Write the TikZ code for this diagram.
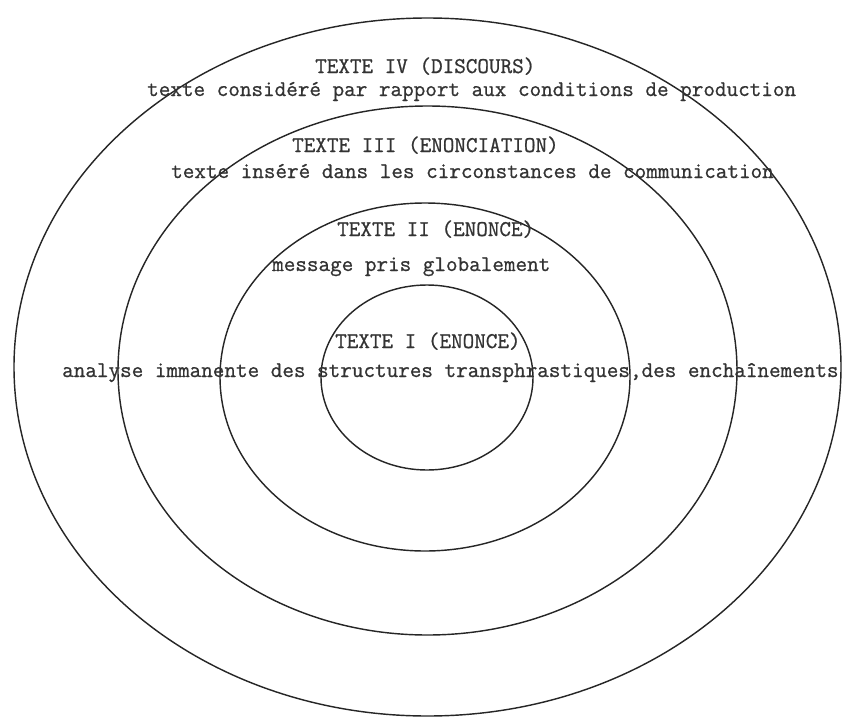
\documentclass[tikz,border=0pt]{standalone}
\usepackage{fontspec}
\newfontfamily\typewr[FakeBold=0.8]{Latin Modern Mono}

\begin{document}
\begin{tikzpicture}[x=1pt,y=-1pt,
        txt/.style={font=\typewr\fontsize{22.5}{26}\selectfont,color=black!80,anchor=base west,inner sep=0pt},]
        \fill[white] (0,0) rectangle (851,720);
        \useasboundingbox (0,0) rectangle (851,720);
        % the four levels, outer to inner
        \foreach \cx/\cy/\rx/\ry in {427.5/367/413.5/349,427.5/370.5/309.5/264.5,425/377/205/174,427/377.5/106/92.5}
        \draw[line width=0.5mm,black!85] (\cx,\cy) ellipse [x radius=\rx pt,y radius=\ry pt];

        \node[txt] (discours) at (315,73) {TEXTE IV (DISCOURS)};
        \node[txt] (discoursdef) at (147,96) {texte considéré par rapport aux conditions de production};
        \node[txt] (enonciation) at (292,152) {TEXTE III (ENONCIATION)};
        \node[txt] (enonciationdef) at (171,178) {texte inséré dans les circonstances de communication};
        \node[txt] (enonce) at (337,236) {TEXTE II (ENONCE)};
        \node[txt] (enoncedef) at (272,271) {message pris globalement};
        \node[txt] (texte) at (335,348) {TEXTE I (ENONCE)};
        \node[txt] (textedef) at (62,377) {analyse immanente des structures transphrastiques,des enchaînements};

%\node[txt] {TEXTE}
    \end{tikzpicture}
\end{document}
